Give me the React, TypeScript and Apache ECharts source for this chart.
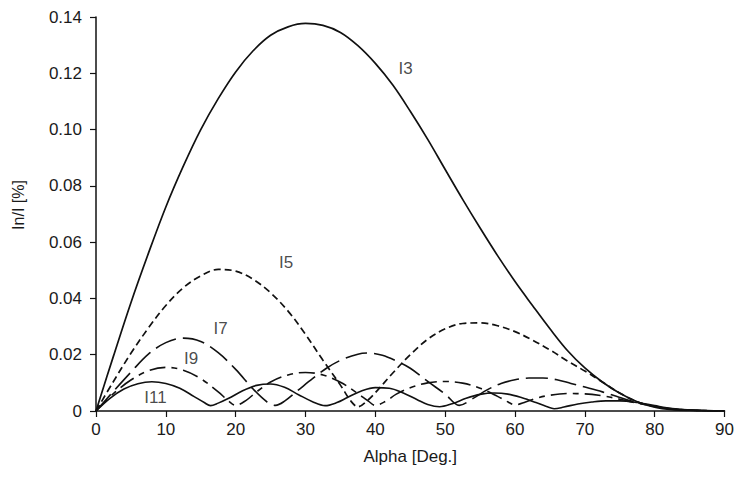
import React, { useEffect, useRef } from "react";
import * as echarts from "echarts";

const xTicks = [0, 10, 20, 30, 40, 50, 60, 70, 80, 90];

const i3X = [0, 2.5, 5, 7.5, 10, 12.5, 15, 17.5, 20, 22.5, 25, 27.5, 30, 32.5, 35, 37.5, 40, 42.5, 45, 47.5, 50, 52.5, 55, 57.5, 60, 62.5, 65, 67.5, 70, 72.5, 75, 77.5, 80, 82.5, 85, 87.5, 90];
const i3Y = [0, 0.0195, 0.0385, 0.056, 0.0725, 0.087, 0.1, 0.111, 0.1205, 0.128, 0.1335, 0.1365, 0.1377, 0.137, 0.1345, 0.1298, 0.1235, 0.1158, 0.1065, 0.0965, 0.0858, 0.0752, 0.065, 0.0552, 0.046, 0.0375, 0.0292, 0.0215, 0.0153, 0.0103, 0.0063, 0.0033, 0.0014, 0.0005, 0.0002, 0.0001, 0];

const i5X = [0, 2.5, 5, 7.5, 10, 12.5, 15, 17.5, 20, 22.5, 25, 27.5, 30, 32.5, 35, 36.5, 37.5, 39, 40, 42.5, 45, 47.5, 50, 52.5, 55, 57.5, 60, 62.5, 65, 67.5, 70, 72.5, 75, 77.5, 80, 82.5, 85, 87.5, 90];
const i5Y = [0, 0.0105, 0.0205, 0.0295, 0.0375, 0.0438, 0.048, 0.0503, 0.0497, 0.0468, 0.042, 0.0355, 0.0272, 0.018, 0.0092, 0.0035, 0.0015, 0.004, 0.0065, 0.0135, 0.02, 0.0255, 0.0292, 0.0311, 0.0313, 0.0303, 0.0282, 0.0252, 0.0217, 0.0178, 0.0142, 0.0103, 0.0064, 0.0033, 0.0016, 0.0007, 0.0003, 0.0001, 0];

const i7X = [0, 2.5, 5, 7.5, 10, 12.5, 15, 17.5, 20, 22.5, 24.5, 25.7, 27, 29, 31, 33, 35, 37.5, 39, 41, 43, 45, 47.5, 50, 52, 54, 56, 58, 60, 62, 64, 66, 68, 70, 72.5, 75, 77.5, 80, 82.5, 85, 87.5, 90];
const i7Y = [0, 0.007, 0.0138, 0.0202, 0.0243, 0.0259, 0.0247, 0.0207, 0.0148, 0.0078, 0.0032, 0.002, 0.0035, 0.0075, 0.0115, 0.0152, 0.018, 0.0202, 0.0206, 0.0198, 0.0178, 0.0152, 0.0105, 0.006, 0.002, 0.0045, 0.0075, 0.0098, 0.0111, 0.0117, 0.0117, 0.0111, 0.0098, 0.0085, 0.0068, 0.0048, 0.003, 0.0017, 0.0008, 0.0003, 0.0001, 0];

const i9X = [0, 2.5, 5, 7.5, 10, 12.5, 15, 17.5, 19, 20, 21.5, 23, 25, 27.5, 30, 32.5, 35, 37.5, 39, 40, 41.5, 43, 45, 47.5, 50, 52.5, 55, 57.5, 59, 60, 61.5, 63, 65, 67.5, 70, 72.5, 75, 77.5, 80, 82.5, 85, 87.5, 90];
const i9Y = [0, 0.0062, 0.011, 0.0143, 0.0155, 0.0145, 0.0115, 0.0068, 0.0035, 0.002, 0.0038, 0.0068, 0.0103, 0.0128, 0.0137, 0.0128, 0.0102, 0.0062, 0.0035, 0.002, 0.0035, 0.006, 0.0083, 0.01, 0.0105, 0.0099, 0.0081, 0.0052, 0.0032, 0.0022, 0.0032, 0.0045, 0.0056, 0.0062, 0.0061, 0.0054, 0.0042, 0.0028, 0.0016, 0.0007, 0.0003, 0.0001, 0];

const i11X = [0, 2, 4, 6, 8, 10, 12, 14, 15.5, 16.4, 17.5, 19, 21, 23, 25, 27, 29, 31, 32.8, 34.5, 36, 38, 40, 42, 44, 46, 47.5, 49.2, 51, 53, 55, 57, 59, 61, 63, 64.5, 65.6, 67, 69, 71, 73, 75, 77.5, 80, 82.5, 85, 87.5, 90];
const i11Y = [0, 0.0045, 0.0078, 0.0097, 0.0104, 0.0098, 0.0081, 0.0052, 0.003, 0.0019, 0.0028, 0.0045, 0.0072, 0.0091, 0.0096, 0.0084, 0.0058, 0.0033, 0.0019, 0.003, 0.0048, 0.0071, 0.0083, 0.0081, 0.0064, 0.004, 0.0023, 0.0015, 0.0026, 0.0045, 0.0059, 0.0064, 0.006, 0.0047, 0.003, 0.0016, 0.0008, 0.0014, 0.0025, 0.0032, 0.0036, 0.0036, 0.003, 0.0019, 0.0009, 0.0004, 0.0001, 0];

const labelNames = ["I3", "I5", "I7", "I9", "I11"];
const labelX = [44.4, 27.3, 17.9, 13.7, 8.6];
const labelY = [0.1215, 0.0526, 0.0293, 0.0185, 0.0047];

const INK = "#111";
const TEXT = "#1a1a1a";
const FONT = "'Liberation Sans', Arial, sans-serif";

function pairs(xs: number[], ys: number[]) {
  return xs.map((x, i) => [x, ys[i]]);
}

function lineSeries(name: string, xs: number[], ys: number[], type: any, width: number) {
  return {
    name,
    type: "line",
    data: pairs(xs, ys),
    smooth: 0.35,
    showSymbol: false,
    symbol: "none",
    itemStyle: { color: INK },
    lineStyle: { color: INK, width, type },
    z: 3,
  };
}

export default function App() {
  const ref = useRef<HTMLDivElement>(null);
  useEffect(() => {
    if (!ref.current) return;
    const chart = echarts.init(ref.current, undefined, { renderer: "svg" });
    chart.setOption({
      animation: false,
      backgroundColor: "#fff",
      grid: { left: 96, right: 9, top: 17, bottom: 72 },
      xAxis: {
        type: "value",
        min: 0,
        max: 90,
        interval: 10,
        name: "Alpha [Deg.]",
        nameLocation: "middle",
        nameGap: 37,
        nameTextStyle: { color: TEXT, fontSize: 17, fontFamily: FONT },
        axisLine: { show: true, onZero: false, lineStyle: { color: INK, width: 1.5 } },
        axisTick: { show: true, inside: false, length: 6, lineStyle: { color: INK, width: 1.2 } },
        axisLabel: {
          color: TEXT,
          fontSize: 17,
          fontFamily: FONT,
          margin: 10,
          customValues: xTicks,
        },
        splitLine: { show: false },
      },
      yAxis: {
        type: "value",
        min: 0,
        max: 0.14,
        interval: 0.02,
        name: "In/I [%]",
        nameLocation: "middle",
        nameGap: 70,
        nameTextStyle: { color: TEXT, fontSize: 16, fontFamily: FONT, padding: [0, 0, 0, 18] },
        axisLine: { show: true, lineStyle: { color: INK, width: 1.5 } },
        axisTick: { show: true, inside: false, length: 6, lineStyle: { color: INK, width: 1.2 } },
        axisLabel: {
          color: TEXT,
          fontSize: 17,
          fontFamily: FONT,
          margin: 14,
          formatter: (v: number) => (v === 0 ? "0" : v.toFixed(2)),
        },
        splitLine: { show: false },
      },
      series: [
        lineSeries("I3", i3X, i3Y, "solid", 1.7),
        lineSeries("I5", i5X, i5Y, [7, 4], 1.7),
        lineSeries("I7", i7X, i7Y, [22, 7], 1.6),
        lineSeries("I9", i9X, i9Y, [16, 6, 6, 6], 1.6),
        lineSeries("I11", i11X, i11Y, "solid", 1.6),
        {
          name: "labels",
          type: "scatter",
          symbol: "circle",
          symbolSize: 1,
          silent: true,
          itemStyle: { color: "rgba(0,0,0,0)" },
          data: labelNames.map((n, i) => ({ name: n, value: [labelX[i], labelY[i]] })),
          label: {
            show: true,
            position: [0, 0],
            align: "center",
            verticalAlign: "middle",
            formatter: "{b}",
            color: TEXT,
            textBorderWidth: 0,
            fontSize: 17,
            fontFamily: FONT,
          },
          z: 5,
        },
      ],
    });
    return () => chart.dispose();
  }, []);
  return <div ref={ref} style={{ width: 737, height: 483, position: "fixed", left: 0, top: 0 }} />;
}
